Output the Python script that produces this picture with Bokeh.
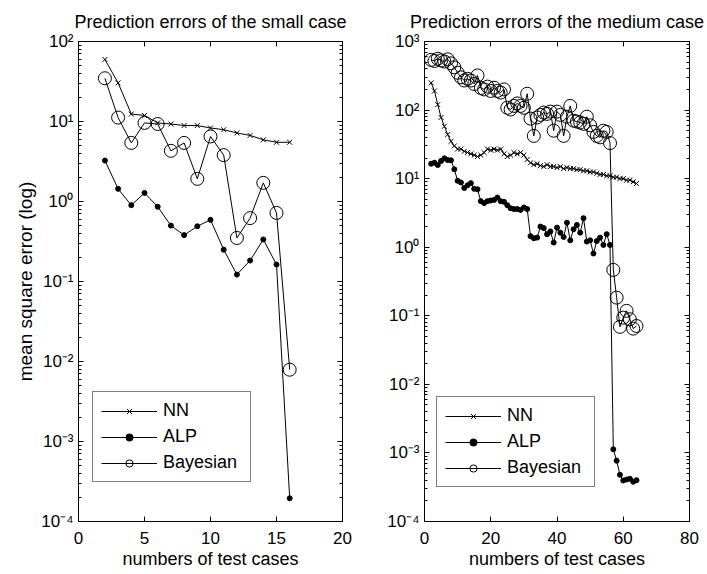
from bokeh.plotting import figure
from bokeh.models import (LogAxis, LinearAxis, FixedTicker, CustomJSTickFormatter,
                          Legend, LegendItem, Range1d)
from bokeh.layouts import row
from bokeh.embed import file_html
from bokeh.resources import INLINE

FONT = "Liberation Sans"

# ---------------- data: small case ----------------
small_x = list(range(2, 17))
small_nn = [59.6, 30.4, 12.4, 11.9, 9.6, 9.3, 8.9, 8.9, 8.3, 7.9, 7.2, 6.7, 5.9, 5.5, 5.5]
small_alp = [3.25, 1.44, 0.90, 1.28, 0.86, 0.50, 0.38, 0.49, 0.59, 0.25, 0.122, 0.183,
             0.335, 0.163, 0.000195]
small_bayes = [34.7, 11.2, 5.4, 9.6, 9.3, 4.3, 5.4, 1.92, 6.5, 3.8, 0.35, 0.62, 1.71,
               0.72, 0.0079]

# ---------------- data: medium case ----------------
medium_x = list(range(2, 65))
medium_nn = [250, 190, 120, 78, 58, 44, 35, 30, 27, 27,
             25, 24, 23, 22, 21, 22, 24, 27, 26, 27,
             26, 27, 23, 21, 22, 24, 23, 24, 22, 19,
             17, 16, 16.5, 15.5, 15, 16, 15, 15, 14.5, 15,
             14, 14.5, 14, 14, 13.5, 13.5, 13, 13, 12.5, 12.5,
             12, 11.5, 11.5, 11, 11, 10.5, 10.5, 10, 10, 9.5,
             9.5, 9, 8.5]
medium_alp = [16.5, 17.1, 15.8, 18.1, 19.8, 18.7, 18.5, 13.7, 9.3, 8.8,
              7.3, 8.0, 8.6, 7.1, 7.0, 4.7, 4.4, 4.7, 4.8, 4.9,
              5.3, 4.7, 4.6, 4.1, 3.7, 3.6, 3.6, 3.5, 3.8, 3.6,
              1.45, 1.35, 1.38, 2.0, 1.9, 1.55, 1.7, 1.17, 1.93, 1.63,
              1.41, 2.28, 1.26, 1.83, 2.11, 1.63, 2.65, 1.21, 1.26, 0.81,
              1.23, 1.38, 1.08, 1.55, 1.08,
              1.13e-3, 7.7e-4, 4.8e-4, 3.96e-4, 4.1e-4, 4.2e-4, 3.8e-4, 4.0e-4]
medium_bayes = [540, 520, 560, 530, 510, 550, 480, 420, 350, 300,
                270, 285, 270, 240, 320, 210, 200, 220, 190, 212,
                190, 180, 200, 108, 102, 115, 125, 115, 108, 173,
                75, 42, 78, 85, 92, 88, 95, 50, 95, 85,
                42, 80, 115, 70, 68, 66, 63, 80, 60, 48,
                42, 40, 50, 48, 33,
                0.467, 0.184, 0.069, 0.094, 0.118, 0.089, 0.065, 0.071]

series_names = ["NN", "ALP", "Bayesian"]
titles = ["Prediction errors of the small case", "Prediction errors of the medium case"]
x_label = "numbers of test cases"
y_label = "mean square error (log)"
small_xticks = [0, 5, 10, 15, 20]
medium_xticks = [0, 20, 40, 60, 80]

SUP_JS = """
const m = {'-':'\u207b','0':'\u2070','1':'\u00b9','2':'\u00b2','3':'\u00b3','4':'\u2074',
           '5':'\u2075','6':'\u2076','7':'\u2077','8':'\u2078','9':'\u2079'};
const e = Math.round(Math.log10(tick));
return '10' + String(e).split('').map(c => m[c]).join('');
"""

HEIGHT = 573


def style_axis(ax, show_labels=True):
    ax.axis_line_color = "black"
    ax.major_tick_line_color = "black"
    ax.minor_tick_line_color = "black"
    ax.major_tick_in = 5
    ax.major_tick_out = 0
    ax.minor_tick_in = 3
    ax.minor_tick_out = 0
    ax.major_label_text_font = FONT
    ax.major_label_text_color = "black"
    ax.axis_label_text_font = FONT
    ax.axis_label_text_font_style = "normal"
    ax.axis_label_text_color = "black"
    if show_labels:
        ax.major_label_text_font_size = "17px"
        ax.axis_label_text_font_size = "18px"
        ax.major_label_standoff = 5
        ax.axis_label_standoff = 2
    else:
        ax.major_label_text_font_size = "2px"
        ax.major_label_text_alpha = 0
        ax.major_label_standoff = 0


def make_panel(title, xs, nn, alp, bayes, xmax, xticks, ytop, width,
               border_left, border_right, ylabel, legend_loc):
    p = figure(width=width, height=HEIGHT, x_range=Range1d(0, xmax),
               y_range=Range1d(1e-4, 10 ** ytop), y_axis_type="log",
               output_backend="svg", toolbar_location=None,
               min_border_left=border_left, min_border_right=border_right,
               min_border_top=41, min_border_bottom=HEIGHT - 521, title=title)
    p.title.text_font = FONT
    p.title.text_font_size = "18px"
    p.title.text_font_style = "normal"
    p.title.text_color = "black"
    p.title.align = "center"
    p.title.standoff = 19
    p.outline_line_color = "black"
    p.outline_line_alpha = 1
    p.xgrid.visible = False
    p.ygrid.visible = False
    p.background_fill_color = "white"
    p.border_fill_color = "white"

    yticks = [10.0 ** e for e in range(-4, ytop + 1)]
    yminor = [k * 10.0 ** e for e in range(-4, ytop) for k in range(2, 10)]
    yticker = FixedTicker(ticks=yticks, minor_ticks=yminor)
    xticker = FixedTicker(ticks=xticks, minor_ticks=[])

    p.xaxis.ticker = xticker
    p.yaxis.ticker = yticker
    p.yaxis.formatter = CustomJSTickFormatter(code=SUP_JS)
    for ax in p.xaxis:
        style_axis(ax)
        ax.major_label_standoff = 10
        ax.axis_label = x_label
    for ax in p.yaxis:
        style_axis(ax)
        if ylabel:
            ax.axis_label = ylabel
            ax.axis_label_text_font_size = "19px"

    top = LinearAxis(ticker=xticker)
    style_axis(top, show_labels=False)
    p.add_layout(top, "above")
    right = LogAxis(ticker=yticker)
    style_axis(right, show_labels=False)
    p.add_layout(right, "right")

    l1 = p.line(xs, nn, line_color="black", line_width=1)
    s1 = p.scatter(xs, nn, marker="x", size=7, line_color="black", line_width=1)
    l2 = p.line(xs, alp, line_color="black", line_width=1)
    s2 = p.scatter(xs, alp, marker="circle", size=5, line_color="black", fill_color="black")
    l3 = p.line(xs, bayes, line_color="black", line_width=1)
    s3 = p.scatter(xs, bayes, marker="circle", size=13, line_color="black",
                   fill_color=None, line_width=1)

    legend = Legend(items=[LegendItem(label=series_names[0], renderers=[l1, s1]),
                           LegendItem(label=series_names[1], renderers=[l2, s2]),
                           LegendItem(label=series_names[2], renderers=[l3, s3])],
                    location=legend_loc)
    legend.label_text_font = FONT
    legend.label_text_font_size = "18px"
    legend.label_text_color = "black"
    legend.glyph_width = 56
    legend.glyph_height = 18
    legend.label_height = 18
    legend.label_width = 79
    legend.label_standoff = 6
    legend.spacing = 5
    legend.padding = 8
    legend.margin = 0
    legend.border_line_color = "black"
    legend.border_line_width = 1
    legend.background_fill_alpha = 1
    p.add_layout(legend, "center")
    return p


p1 = make_panel(titles[0], small_x, small_nn, small_alp, small_bayes, 20, small_xticks, 2,
                358, 78, 16, y_label, (14, 39))
p2 = make_panel(titles[1], medium_x, medium_nn, medium_alp, medium_bayes, 80, medium_xticks, 3,
                347, 66, 16, None, (12, 34))

layout = row(p1, p2)
open("out.html", "w").write(file_html(layout, INLINE))
